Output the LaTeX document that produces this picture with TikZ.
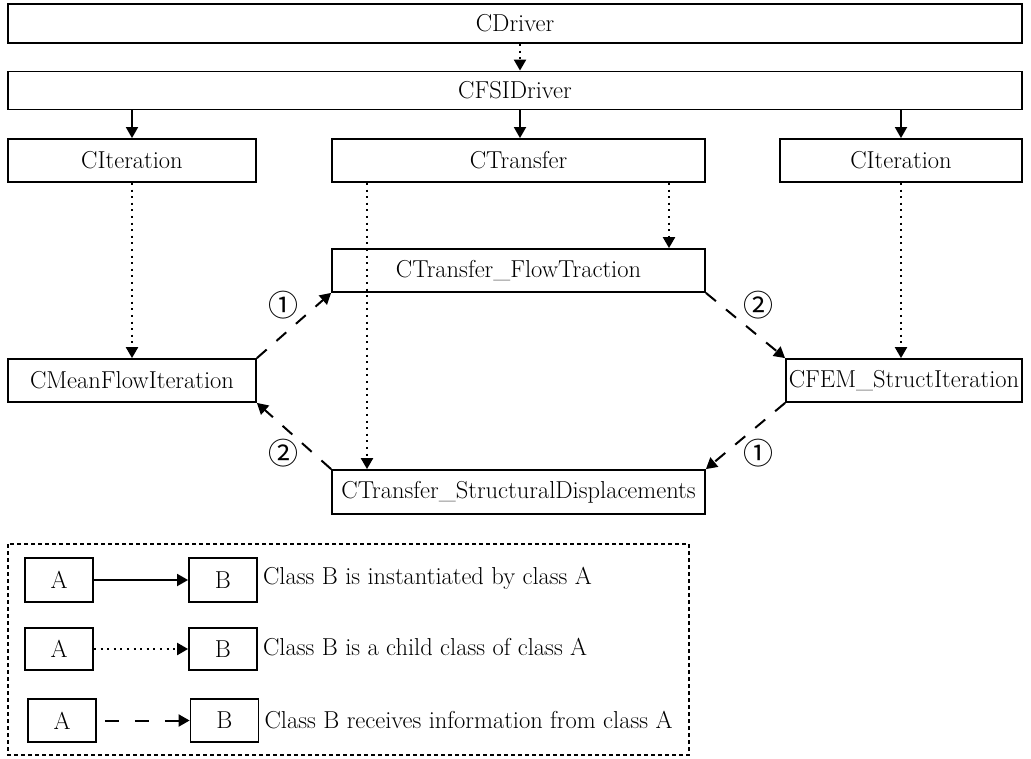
\documentclass[tikz,border=0pt]{standalone}
\usepackage{fontspec}
\newfontfamily\circfont{Noto Sans CJK JP}
\usetikzlibrary{arrows.meta}
\tikzset{
  cls/.style={draw, line width=1.8pt, inner sep=0pt, anchor=center},
  tipend/.style={-{Triangle[length=11pt,width=12pt]}},
  inst/.style={tipend, line width=1.8pt},
  child/.style={tipend, line width=2.2pt, dash pattern=on 2pt off 4.6pt},
  info/.style={tipend, line width=2pt, dash pattern=on 13pt off 13pt},
  num/.style={font=\circfont\fontsize{30}{30}\selectfont, inner sep=0pt},
  legtext/.style={anchor=west, inner sep=0pt}
}
\begin{document}
\begin{tikzpicture}[x=1pt, y=-1pt, font=\fontsize{24.5}{28}\selectfont]
\useasboundingbox (0,0) rectangle (1031,758);

% class hierarchy
\node[cls, minimum width=1014pt, minimum height=39pt] (drv)  at (515,23.5)  {CDriver};
\node[cls, minimum width=1014pt, minimum height=38pt] (fsi)  at (515,90.5)  {CFSIDriver};
\node[cls, minimum width=248pt,  minimum height=43pt] (itl)  at (132,160.5) {CIteration};
\node[cls, minimum width=373pt,  minimum height=43pt] (trf)  at (518.5,160.5) {CTransfer};
\node[cls, minimum width=242pt,  minimum height=43pt] (itr)  at (901,160.5) {CIteration};
\node[cls, minimum width=373pt,  minimum height=43pt] (flow) at (518.5,270.5) {CTransfer\_FlowTraction};
\node[cls, minimum width=373pt,  minimum height=44pt] (disp) at (518.5,492) {CTransfer\_StructuralDisplacements};
\node[cls, minimum width=248pt,  minimum height=43pt] (mean) at (132,380.5) {CMeanFlowIteration};
\node[cls, minimum width=236pt,  minimum height=43pt] (fem)  at (904,380.5) {CFEM\_StructIteration};

% inheritance
\draw[child] ([xshift=5pt]drv.south) -- ([xshift=5pt]fsi.north);
\draw[child] (itl.south) -- (mean.north);
\draw[child] (itr.south) -- (itr.south |- fem.north);
\draw[child] ([xshift=150.5pt]trf.south) -- ([xshift=150.5pt]trf.south |- flow.north);
\draw[child] ([xshift=-151.5pt]trf.south) -- ([xshift=-151.5pt]trf.south |- disp.north);

% instantiation
\draw[inst] (fsi.south -| itl) -- (itl.north);
\draw[inst] ([xshift=1.5pt]fsi.south -| trf) -- ([xshift=1.5pt]trf.north);
\draw[inst] (fsi.south -| itr) -- (itr.north);

% data exchange
\draw[info] (mean.north east) -- (flow.south west);
\draw[info] (flow.south east) -- (fem.north west);
\draw[info] (fem.south west) -- (disp.north east);
\draw[info] (disp.north west) -- (mean.south east);
\node[num] (n1a) at (283,305) {①};
\node[num] (n2a) at (758,305) {②};
\node[num] (n2b) at (283,453) {②};
\node[num] (n1b) at (758,453) {①};

% legend
\draw[line width=2pt, dash pattern=on 4pt off 3pt] (8,544) rectangle (689,755);
\node[cls, minimum width=68pt, minimum height=44pt] (a1) at (59,580) {A};
\node[cls, minimum width=68pt, minimum height=44pt] (b1) at (223,580) {B};
\node[cls, minimum width=68pt, minimum height=42pt] (a2) at (59,649) {A};
\node[cls, minimum width=68pt, minimum height=42pt] (b2) at (223,649) {B};
\node[cls, minimum width=68pt, minimum height=43pt] (a3) at (62,720.5) {A};
\node[cls, minimum width=68pt, minimum height=43pt] (b3) at (224.5,720.5) {B};
\draw[inst] (a1) -- (b1);
\draw[child] (a2) -- (b2);
\draw[info, dash pattern=on 14pt off 16pt, dash phase=-8pt] (a3) -- (b3);
\node[legtext] (t1) at ([xshift=5pt,yshift=2pt]b1.east) {Class B is instantiated by class A};
\node[legtext] (t2) at ([xshift=5pt,yshift=2pt]b2.east) {Class B is a child class of class A};
\node[legtext] (t3) at ([xshift=5pt]b3.east) {Class B receives information from class A};
\end{tikzpicture}
\end{document}
